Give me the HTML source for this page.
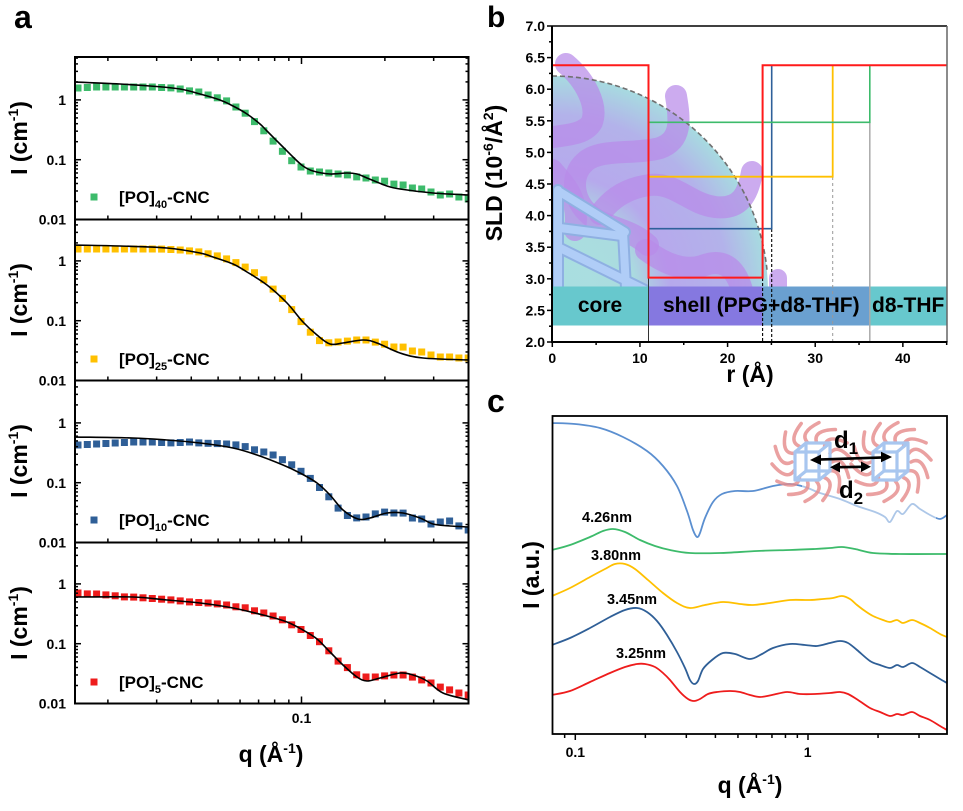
<!DOCTYPE html>
<html><head><meta charset="utf-8"><style>
html,body{margin:0;padding:0;background:#fff;}
svg{display:block;font-family:"Liberation Sans",Arial,sans-serif;font-weight:bold;}
</style></head><body>
<svg width="963" height="811" viewBox="0 0 963 811" xmlns="http://www.w3.org/2000/svg">
<defs>
 <clipPath id="ca0"><rect x="75" y="57" width="393.5" height="162.5"/></clipPath>
 <clipPath id="ca1"><rect x="75" y="219.5" width="393.5" height="161"/></clipPath>
 <clipPath id="ca2"><rect x="75" y="380.5" width="393.5" height="162"/></clipPath>
 <clipPath id="ca3"><rect x="75" y="542.5" width="393.5" height="161"/></clipPath>
 <clipPath id="cb"><rect x="552" y="26" width="395" height="316"/></clipPath>
 <clipPath id="cc"><rect x="552" y="416" width="395" height="318"/></clipPath>
 <radialGradient id="sph" cx="552" cy="292" r="216" gradientUnits="userSpaceOnUse">
  <stop offset="0" stop-color="#a9dfe0"/>
  <stop offset="0.38" stop-color="#aadcdf"/>
  <stop offset="0.55" stop-color="#b6a9ec"/>
  <stop offset="0.82" stop-color="#b3b2ea"/>
  <stop offset="1" stop-color="#a7dbe0"/>
 </radialGradient>
</defs>
<rect width="963" height="811" fill="#fff"/>

<!-- ============ PANEL A ============ -->
<g id="aData"></g>
<g fill="none" stroke="#000" stroke-width="2">
 <rect x="75" y="57" width="393.5" height="162.5"/>
 <rect x="75" y="219.5" width="393.5" height="161"/>
 <rect x="75" y="380.5" width="393.5" height="162"/>
 <rect x="75" y="542.5" width="393.5" height="161"/>
</g>
<g id="aTicks" stroke="#000" stroke-width="1.5"></g>
<text x="14" y="28" font-size="32">a</text>
<g font-size="14" text-anchor="end">
 <text x="66" y="105">1</text><text x="66" y="165">0.1</text><text x="66" y="224.5">0.01</text>
 <text x="66" y="266">1</text><text x="66" y="326">0.1</text><text x="66" y="385.5">0.01</text>
 <text x="66" y="428">1</text><text x="66" y="488">0.1</text><text x="66" y="547.5">0.01</text>
 <text x="66" y="589">1</text><text x="66" y="649">0.1</text><text x="66" y="708.5">0.01</text>
</g>
<g font-size="23" text-anchor="middle">
 <text transform="translate(27,138) rotate(-90)">I (cm<tspan dy="-9" font-size="14">-1</tspan><tspan dy="9">)</tspan></text>
 <text transform="translate(27,300) rotate(-90)">I (cm<tspan dy="-9" font-size="14">-1</tspan><tspan dy="9">)</tspan></text>
 <text transform="translate(27,461) rotate(-90)">I (cm<tspan dy="-9" font-size="14">-1</tspan><tspan dy="9">)</tspan></text>
 <text transform="translate(27,623) rotate(-90)">I (cm<tspan dy="-9" font-size="14">-1</tspan><tspan dy="9">)</tspan></text>
</g>
<text x="301.5" y="723" font-size="14" text-anchor="middle">0.1</text>
<text x="271" y="762" font-size="23" text-anchor="middle">q (Å<tspan dy="-9" font-size="14">-1</tspan><tspan dy="9">)</tspan></text>
<g>
 <rect x="90.5" y="193.5" width="7" height="7" fill="#3dbb6b"/>
 <rect x="90.5" y="355.5" width="7" height="7" fill="#ffc000"/>
 <rect x="90.5" y="516.5" width="7" height="7" fill="#2f5f97"/>
 <rect x="90.5" y="678.5" width="7" height="7" fill="#ee1c1c"/>
</g>
<g font-size="17">
 <text x="119" y="203">[PO]<tspan dy="5" font-size="11">40</tspan><tspan dy="-5">-CNC</tspan></text>
 <text x="119" y="365">[PO]<tspan dy="5" font-size="11">25</tspan><tspan dy="-5">-CNC</tspan></text>
 <text x="119" y="526">[PO]<tspan dy="5" font-size="11">10</tspan><tspan dy="-5">-CNC</tspan></text>
 <text x="119" y="688">[PO]<tspan dy="5" font-size="11">5</tspan><tspan dy="-5">-CNC</tspan></text>
</g>

<!-- ============ PANEL B ============ -->
<g clip-path="url(#cb)">
 <path d="M552,76 A216,216 0 0 1 768,292 L552,292 Z" fill="url(#sph)"/>
 <g fill="none" stroke="#b98ae9" stroke-opacity="0.72" stroke-width="22" stroke-linecap="round">
  <path d="M566,64 C585,80 598,105 592,122 C585,135 565,135 546,138"/>
  <path d="M676,96 C680,120 682,140 660,148 C635,155 600,148 585,162 C570,175 572,200 590,215 C605,228 630,228 648,245"/>
  <path d="M752,172 C748,195 740,210 715,207 C690,204 675,182 650,185 C625,188 610,200 600,214"/>
  <path d="M646,250 C662,262 682,272 702,266 C722,258 735,266 742,290"/>
  <path d="M778,278 L778,292" stroke-width="18"/>
  <path d="M552,170 C565,185 580,200 575,230"/>
 </g>
 <path d="M552,76 A216,216 0 0 1 767,270" fill="none" stroke="#707070" stroke-width="1.6" stroke-dasharray="5,3"/>
 <g fill="none" stroke-linecap="round">
  <g stroke="#8fb0e2" stroke-width="12">
   <path d="M558,190 L558,292"/><path d="M560,192 L625,232"/><path d="M560,228 L622,236"/>
   <path d="M623,232 L626,288"/><path d="M560,248 L645,290"/>
  </g>
  <g stroke="#b0cdf7" stroke-width="8">
   <path d="M558,190 L558,292"/><path d="M560,192 L625,232"/><path d="M560,228 L622,236"/>
   <path d="M623,232 L626,288"/><path d="M560,248 L645,290"/>
  </g>
 </g>
 <rect x="552" y="286.5" width="96.5" height="39" fill="#67c8cd"/>
 <rect x="648.5" y="286.5" width="114" height="39" fill="#8578e0"/>
 <rect x="762.5" y="286.5" width="107.5" height="39" fill="#6aa0d0"/>
 <rect x="870" y="286.5" width="77" height="39" fill="#67c8cd"/>
 <line x1="869.8" y1="122" x2="869.8" y2="342" stroke="#aaa" stroke-width="1.5"/>
 <line x1="832.7" y1="177" x2="832.7" y2="342" stroke="#999" stroke-width="1" stroke-dasharray="3,3"/>
 <line x1="771.7" y1="229" x2="771.7" y2="342" stroke="#000" stroke-width="1.1" stroke-dasharray="3,2"/>
 <line x1="762.6" y1="278" x2="762.6" y2="342" stroke="#000" stroke-width="1.1" stroke-dasharray="3,2"/>
 <line x1="648.5" y1="278" x2="648.5" y2="342" stroke="#333" stroke-width="1"/>
 <g fill="none" stroke-width="1.6">
  <polyline points="648.5,228.7 771.7,228.7 771.7,65.3" stroke="#2e609a"/>
  <polyline points="648.5,176.7 832.7,176.7 832.7,65.3" stroke="#ffc000" stroke-width="1.8"/>
  <polyline points="648.5,122.3 869.8,122.3 869.8,65.3" stroke="#3dbb6b"/>
  <polyline points="552,65.3 648.5,65.3 648.5,277.6 762.6,277.6 762.6,65.3 947,65.3" stroke="#ff1a1a" stroke-width="2"/>
 </g>
 <g font-size="21">
  <text x="600" y="312" text-anchor="middle">core</text>
  <text x="663" y="312">shell (PPG+d8-THF)</text>
  <text x="872" y="312">d8-THF</text>
 </g>
</g>
<line x1="552" y1="26" x2="947" y2="26" stroke="#000" stroke-width="1.5"/>
<line x1="947" y1="26" x2="947" y2="342" stroke="#666" stroke-width="1.5"/>
<line x1="552" y1="26" x2="552" y2="342.8" stroke="#000" stroke-width="2"/>
<line x1="551" y1="342" x2="947.5" y2="342" stroke="#000" stroke-width="2"/>
<g id="bTicks" stroke="#000" stroke-width="1.5"></g>
<text x="487" y="27" font-size="30">b</text>
<g font-size="14" text-anchor="end">
 <text x="545" y="31">7.0</text><text x="545" y="62.6">6.5</text><text x="545" y="94.2">6.0</text>
 <text x="545" y="125.8">5.5</text><text x="545" y="157.4">5.0</text><text x="545" y="189">4.5</text>
 <text x="545" y="220.6">4.0</text><text x="545" y="252.2">3.5</text><text x="545" y="283.8">3.0</text>
 <text x="545" y="315.4">2.5</text><text x="545" y="347">2.0</text>
</g>
<g font-size="14" text-anchor="middle">
 <text x="552.3" y="363">0</text><text x="639.9" y="363">10</text><text x="727.6" y="363">20</text>
 <text x="815.2" y="363">30</text><text x="902.9" y="363">40</text>
</g>
<text transform="translate(502,173) rotate(-90)" font-size="23" text-anchor="middle">SLD (10<tspan dy="-9" font-size="14">-6</tspan><tspan dy="9">/Å</tspan><tspan dy="-9" font-size="14">2</tspan><tspan dy="9">)</tspan></text>
<text x="750" y="382" font-size="23" text-anchor="middle">r (Å)</text>

<!-- ============ PANEL C ============ -->
<g id="cCurves" clip-path="url(#cc)" fill="none" stroke-width="1.8" stroke-linejoin="round"></g>
<rect x="802" y="425" width="134" height="99" fill="#fff" fill-opacity="0.5"/>
<g id="cArcs" fill="none" stroke="#e58a8a" stroke-opacity="0.8" stroke-width="3.5" stroke-linecap="round"></g>
<g fill="none" stroke="#a8c6ef" stroke-width="3.2" stroke-linejoin="round">
 <rect x="795" y="452" width="24" height="28"/>
 <rect x="806" y="443" width="24" height="28"/>
 <path d="M795,452 L806,443 M819,452 L830,443 M795,480 L806,471 M819,480 L830,471"/>
 <rect x="873" y="452" width="24" height="28"/>
 <rect x="884" y="443" width="24" height="28"/>
 <path d="M873,452 L884,443 M897,452 L908,443 M873,480 L884,471 M897,480 L908,471"/>
</g>
<g stroke="#000" stroke-width="2.6" fill="#000">
 <line x1="818" y1="459.6" x2="884" y2="457.4"/>
 <polygon points="810,460 821,454.5 821,465" stroke="none"/>
 <polygon points="892,457 881,451.8 881,462.3" stroke="none"/>
 <line x1="838" y1="467.2" x2="863" y2="466.8"/>
 <polygon points="830,467.3 840,462 840,472.5" stroke="none"/>
 <polygon points="871,466.7 861,461.5 861,472" stroke="none"/>
</g>
<text x="834" y="448" font-size="24">d<tspan dy="6" font-size="17">1</tspan></text>
<text x="839" y="498" font-size="24">d<tspan dy="6" font-size="17">2</tspan></text>
<rect x="552.5" y="416" width="394.5" height="318" fill="none" stroke="#000" stroke-width="1.8"/>
<g id="cTicks" stroke="#000" stroke-width="1.5"></g>
<text x="487" y="412" font-size="32">c</text>
<g font-size="14.5">
 <text x="582" y="522">4.26nm</text>
 <text x="591" y="560">3.80nm</text>
 <text x="607" y="604">3.45nm</text>
 <text x="616" y="658">3.25nm</text>
</g>
<g font-size="14" text-anchor="middle">
 <text x="575.3" y="757">0.1</text><text x="807.7" y="757">1</text>
</g>
<text x="750" y="793" font-size="23" text-anchor="middle">q (Å<tspan dy="-9" font-size="14">-1</tspan><tspan dy="9">)</tspan></text>
<text transform="translate(539,575) rotate(-90)" font-size="23" text-anchor="middle">I (a.u.)</text>
</svg>
<script>
(function(){
const NS="http://www.w3.org/2000/svg";
function el(tag,a,p){const e=document.createElementNS(NS,tag);for(const k in a)e.setAttribute(k,a[k]);p.appendChild(e);return e;}
function cr(pts){let d='M'+pts[0][0]+','+pts[0][1];for(let i=0;i<pts.length-1;i++){const p0=pts[i-1]||pts[i],p1=pts[i],p2=pts[i+1],p3=pts[i+2]||p2;const c1x=p1[0]+(p2[0]-p0[0])/6,c1y=p1[1]+(p2[1]-p0[1])/6,c2x=p2[0]-(p3[0]-p1[0])/6,c2y=p2[1]-(p3[1]-p1[1])/6;d+='C'+c1x.toFixed(1)+','+c1y.toFixed(1)+' '+c2x.toFixed(1)+','+c2y.toFixed(1)+' '+p2[0]+','+p2[1];}return d;}
function interp(pts,x){if(x<=pts[0][0])return pts[0][1];for(let i=0;i<pts.length-1;i++){if(x<=pts[i+1][0]){const t=(x-pts[i][0])/(pts[i+1][0]-pts[i][0]);return pts[i][1]+t*(pts[i+1][1]-pts[i][1]);}}return pts[pts.length-1][1];}

/* ---- panel a ---- */
const A=document.getElementById('aData');
const panels=[
 {c:'#3dbb6b',
  line:[[74,82],[120,84],[150,86],[180,89],[200,94],[220,100],[233,106],[247,114],[260,124],[267,131],[283,147],[293,157],[303,166],[313,171],[330,174],[347,173],[357,174],[367,178],[387,186],[400,189],[433,193],[469,195]],
  mk:[[78,88],[97,87],[153,87],[172,88],[180,89],[190,91],[199,92],[208,95],[218,98],[227,101],[236,107],[245,113],[255,122],[264,131],[273,141],[283,152],[292,161],[301,167],[310,171],[320,172],[329,173],[338,174],[348,175],[357,177],[366,178],[375,180],[384,181],[393,184],[403,185],[412,188],[422,189],[431,192],[440,195],[450,194],[459,197],[468,199]]},
 {c:'#ffc000',
  line:[[74,245],[120,246],[167,248],[200,253],[213,257],[233,264],[247,272],[267,285],[287,303],[303,322],[317,335],[330,344],[343,343],[363,340],[377,343],[400,353],[423,358],[469,360]],
  mk:[[78,249],[160,249],[180,250],[200,252],[218,256],[227,259],[237,263],[247,268],[255,273],[264,280],[273,289],[283,299],[292,310],[302,323],[311,333],[320,341],[330,343],[338,342],[348,341],[357,340],[366,340],[375,342],[384,344],[393,347],[403,347],[412,351],[422,352],[431,355],[440,357],[450,357],[459,358],[468,358]]},
 {c:'#2f5f97',
  line:[[74,437],[133,438],[167,440],[200,443],[233,448],[257,455],[283,465],[300,473],[317,483],[330,495],[343,510],[358,519],[370,518],[387,513],[403,513],[420,518],[433,524],[450,526],[469,527]],
  mk:[[78,445],[97,444],[133,442],[153,442],[172,443],[190,442],[200,443],[227,444],[237,445],[247,447],[255,450],[264,452],[273,455],[283,460],[292,465],[302,472],[311,479],[320,488],[330,498],[338,508],[348,516],[357,518],[366,517],[375,514],[384,512],[393,513],[403,513],[412,518],[422,519],[431,524],[440,522],[450,521],[459,526],[468,530]]},
 {c:'#ee1c1c',
  line:[[74,597],[133,597],[167,600],[200,603],[233,608],[267,616],[287,622],[303,630],[317,639],[330,652],[343,665],[357,677],[367,681],[380,678],[400,673],[413,675],[427,681],[443,693],[469,700]],
  mk:[[78,593],[88,594],[97,594],[107,595],[117,596],[125,597],[133,597],[172,600],[190,602],[208,603],[218,604],[227,605],[237,607],[247,608],[255,611],[264,613],[273,616],[283,620],[292,625],[302,630],[311,636],[320,642],[330,652],[338,661],[348,668],[357,675],[366,677],[375,677],[384,676],[393,675],[403,675],[412,677],[422,680],[431,683],[440,687],[450,690],[459,693],[468,695]]}
];
panels.forEach((p,i)=>{
 const g=el('g',{'clip-path':'url(#ca'+i+')'},A);
 for(let k=0;k<43;k++){const x=78+k*9.29;const y=interp(p.mk,x);el('rect',{x:(x-3.5).toFixed(1),y:(y-3.5).toFixed(1),width:7,height:7,fill:p.c},g);}
 el('path',{d:cr(p.line),fill:'none',stroke:'#000','stroke-width':1.6},g);
});
const AT=document.getElementById('aTicks');
const T=[57,219.5,380.5,542.5],B=[219.5,380.5,542.5,703.5],D=59.8;
function qx(q){return 301.5+277*Math.log10(q/0.1);}
const minq=[0.02,0.03,0.04,0.05,0.06,0.07,0.08,0.09,0.2,0.3];
for(let i=0;i<4;i++){
 minq.forEach(q=>{const x=qx(q);el('line',{x1:x,x2:x,y1:B[i],y2:B[i]-4},AT);if(i==0)el('line',{x1:x,x2:x,y1:T[0],y2:T[0]+4},AT);});
 el('line',{x1:301.5,x2:301.5,y1:B[i],y2:B[i]-7},AT);if(i==0)el('line',{x1:301.5,x2:301.5,y1:T[0],y2:T[0]+7},AT);
 for(let dec=0;dec<3;dec++){
  const y0=B[i]-D*dec;
  if(dec>0){el('line',{x1:75,x2:81,y1:y0,y2:y0},AT);el('line',{x1:468.5,x2:462.5,y1:y0,y2:y0},AT);}
  for(let m=2;m<=9;m++){const y=y0-D*Math.log10(m);if(y>T[i]+1){el('line',{x1:75,x2:78,y1:y,y2:y},AT);el('line',{x1:468.5,x2:465.5,y1:y,y2:y},AT);}}
 }
}
/* ---- panel b ticks ---- */
const BT=document.getElementById('bTicks');
for(let k=0;k<=20;k++){const v=2+k*0.25;const y=342-(v-2)*63.2;const L=(k%2==0)?5:3;el('line',{x1:552,x2:552-L,y1:y,y2:y},BT);}
for(let r=0;r<=45;r+=5){const x=552.3+r*8.764;const L=(r%10==0)?5:3;el('line',{x1:x,x2:x,y1:342,y2:342+L},BT);}
/* ---- panel c ---- */
const C=document.getElementById('cCurves');
const curves=[
 ['#5b8fd0',[[552,423],[575,424],[600,428],[623,437],[647,451],[663,466],[677,486],[687,511],[693,530],[697,537],[700,533],[705,518],[713,502],[722,494],[735,491],[753,491],[773,486],[790,484],[805,487],[820,493],[840,499],[857,506],[875,512],[885,517],[890,522],[897,511],[903,514],[912,504],[920,509],[930,515],[940,519],[947,515]]],
 ['#3dbb6b',[[552,550],[570,545],[590,537],[603,531],[613,529],[625,532],[640,540],[655,546],[670,550],[690,553],[720,553],[757,551],[790,550],[815,549],[830,548],[842,547],[855,549],[873,553],[900,554],[947,554]]],
 ['#ffc000',[[552,596],[570,588],[590,577],[605,569],[615,564],[625,564],[635,569],[648,580],[663,593],[677,603],[690,608],[705,605],[723,602],[740,604],[753,605],[770,603],[790,600],[810,600],[823,599],[833,598],[842,596],[850,599],[857,605],[865,611],[873,616],[883,620],[890,622],[897,620],[903,623],[912,620],[920,623],[930,628],[940,634],[947,637]]],
 ['#2f5f97',[[552,645],[570,638],[590,628],[610,617],[625,610],[637,608],[647,612],[657,621],[667,635],[677,652],[685,668],[690,680],[694,684],[698,681],[703,669],[712,660],[723,653],[735,654],[750,659],[762,654],[773,648],[790,644],[805,645],[817,646],[830,643],[840,641],[848,643],[857,650],[870,661],[880,665],[890,668],[897,665],[903,667],[912,663],[920,667],[930,673],[940,679],[947,683]]],
 ['#ee1c1c',[[552,695],[570,691],[590,682],[610,673],[625,667],[637,664],[645,664],[655,667],[663,673],[670,680],[680,692],[688,699],[694,701],[700,699],[708,694],[717,692],[730,691],[740,692],[750,695],[760,697],[772,695],[787,692],[800,694],[815,694],[830,693],[840,692],[848,694],[858,700],[870,708],[880,712],[890,716],[897,714],[903,715],[912,712],[920,716],[930,720],[940,726],[947,730]]]
];
curves.forEach(c=>el('path',{d:cr(c[1]),stroke:c[0]},C));
const CA=document.getElementById('cArcs');
[[812,462],[891,462]].forEach(c=>{
 for(let k=0;k<14;k++){const th=k*2*Math.PI/14;
  const p1=[c[0]+20*Math.cos(th),c[1]+20*Math.sin(th)];
  const p2=[c[0]+40*Math.cos(th+0.4),c[1]+40*Math.sin(th+0.4)];
  const q=[c[0]+32*Math.cos(th-0.2),c[1]+32*Math.sin(th-0.2)];
  el('path',{d:'M'+p1[0].toFixed(1)+','+p1[1].toFixed(1)+' Q'+q[0].toFixed(1)+','+q[1].toFixed(1)+' '+p2[0].toFixed(1)+','+p2[1].toFixed(1)},CA);
 }
});
const CT=document.getElementById('cTicks');
function cx(q){return 575.3+232.7*Math.log10(q/0.1);}
[0.09,0.2,0.3,0.4,0.5,0.6,0.7,0.8,0.9,2,3].forEach(q=>{const x=cx(q);el('line',{x1:x,x2:x,y1:734,y2:738},CT);});
[0.1,1].forEach(q=>{const x=cx(q);el('line',{x1:x,x2:x,y1:734,y2:740},CT);});
})();
</script>
</body></html>
